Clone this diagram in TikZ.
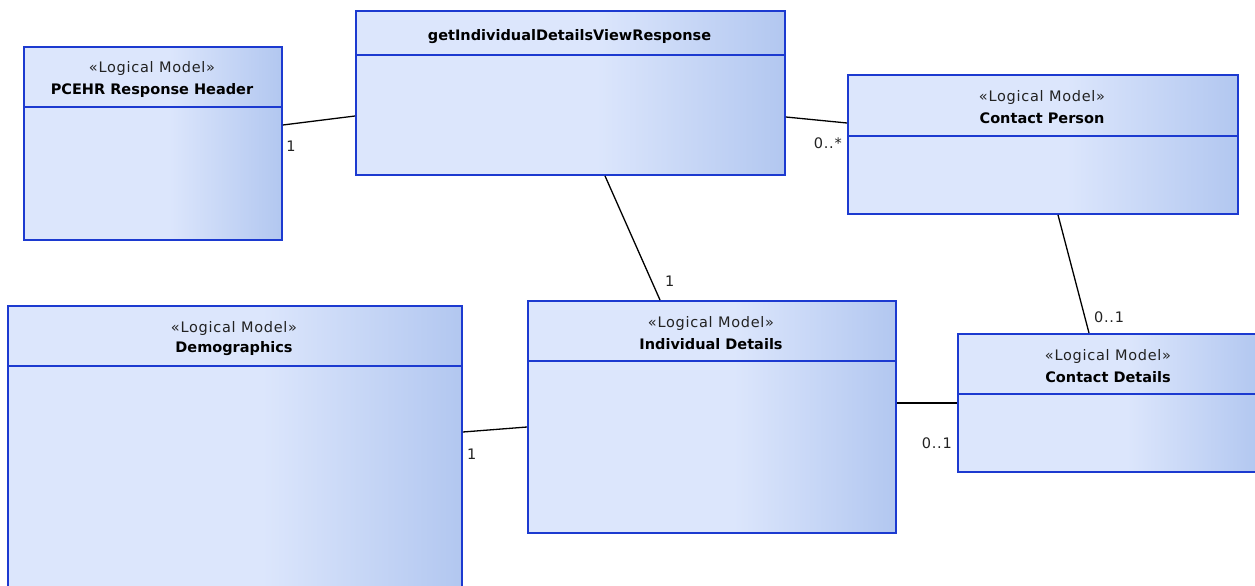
\documentclass[tikz,border=0pt]{standalone}
\usepackage{fontspec}
\usepackage{tikz}
\setmainfont{DejaVu Sans}
\newfontfamily\stereofont{DejaVu Sans}[LetterSpace=5]
\newfontfamily\namefont{DejaVu Sans Bold}
\definecolor{umlblue}{RGB}{28,58,208}
\definecolor{umllight}{RGB}{220,230,252}
\definecolor{umldark}{RGB}{178,199,240}
\definecolor{umltext}{RGB}{34,34,34}
\pgfdeclarehorizontalshading{umlshade}{100bp}{color(0bp)=(umllight); color(25bp)=(umllight); color(53bp)=(umllight); color(75bp)=(umldark); color(100bp)=(umldark)}
\tikzset{ %class boxes
    umlbox/.style={draw=umlblue, line width=1.9pt, shading=umlshade, anchor=north west, inner sep=0pt},
    hdrline/.style={draw=umlblue, line width=1.9pt},
    stereo/.style={font=\stereofont\fontsize{14.5}{17}\selectfont, text=umltext, inner sep=0pt},
    cname/.style={font=\namefont\fontsize{14.5}{17}\selectfont, text=black, inner sep=0pt},
    mult/.style={font=\stereofont\fontsize{14.5}{17}\selectfont, text=umltext, inner sep=0pt},
    assoc/.style={draw=black, line width=1.3pt},
}

\begin{document}
\begin{tikzpicture}[x=1pt, y=-1pt]
			\useasboundingbox (0,0) rectangle (1255,586);
			\clip (0,0) rectangle (1255,586);
			% classes
			\node[umlbox, minimum width=258pt, minimum height=193pt] (pcehr) at (23,46) {};
			\node[umlbox, minimum width=429pt, minimum height=164pt] (viewresp) at (355,10) {};
			\node[umlbox, minimum width=390pt, minimum height=139pt] (cperson) at (847,74) {};
			\node[umlbox, minimum width=454pt, minimum height=300pt] (demog) at (7,305) {};
			\node[umlbox, minimum width=368pt, minimum height=232pt] (indiv) at (527,300) {};
			\node[umlbox, minimum width=302pt, minimum height=138pt] (cdetails) at (957,333) {};
			\draw[hdrline] (pcehr.west |- 0,107) -- (pcehr.east |- 0,107);
			\draw[hdrline] (viewresp.west |- 0,55) -- (viewresp.east |- 0,55);
			\draw[hdrline] (cperson.west |- 0,136) -- (cperson.east |- 0,136);
			\draw[hdrline] (demog.west |- 0,366) -- (demog.east |- 0,366);
			\draw[hdrline] (indiv.west |- 0,361) -- (indiv.east |- 0,361);
			\draw[hdrline] (cdetails.west |- 0,394) -- (cdetails.east |- 0,394);
			\node[stereo] (pcehrst) at (152,69) {«Logical Model»};
			\node[cname] (pcehrnm) at (152,90) {PCEHR Response Header};
			\node[cname] (viewrespnm) at (569.5,37) {getIndividualDetailsViewResponse};
			\node[stereo] (cpersonst) at (1042,97) {«Logical Model»};
			\node[cname] (cpersonnm) at (1042,118) {Contact Person};
			\node[stereo] (demogst) at (234,328) {«Logical Model»};
			\node[cname] (demognm) at (234,349) {Demographics};
			\node[stereo] (indivst) at (711,323) {«Logical Model»};
			\node[cname] (indivnm) at (711,344) {Individual Details};
			\node[stereo] (cdetailsst) at (1108,356) {«Logical Model»};
			\node[cname] (cdetailsnm) at (1108,377) {Contact Details};
			% associations
			\draw[assoc] ([yshift=-79pt]pcehr.north east) -- ([yshift=-106pt]viewresp.north west);
			\draw[assoc] ([yshift=-107pt]viewresp.north east) -- ([yshift=-49pt]cperson.north west);
			\draw[assoc] ([xshift=250pt]viewresp.south west) -- ([xshift=133pt]indiv.north west);
			\draw[assoc] ([xshift=211pt]cperson.south west) -- ([xshift=132pt]cdetails.north west);
			\draw[assoc] ([yshift=-127pt]demog.north east) -- ([yshift=-127pt]indiv.north west);
			\draw[assoc] ([yshift=-103pt]indiv.north east) -- ([yshift=-70pt]cdetails.north west);
			\node[mult] (m1) at (291,146) {1};
			\node[mult, anchor=east] (m2) at (842,143) {0..*};
			\node[mult, anchor=west] (m3) at (665,281) {1};
			\node[mult, anchor=west] (m4) at (1094,317) {0..1};
			\node[mult, anchor=west] (m5) at (467,454) {1};
			\node[mult, anchor=east] (m6) at (952,443) {0..1};
		\end{tikzpicture}
\end{document}
